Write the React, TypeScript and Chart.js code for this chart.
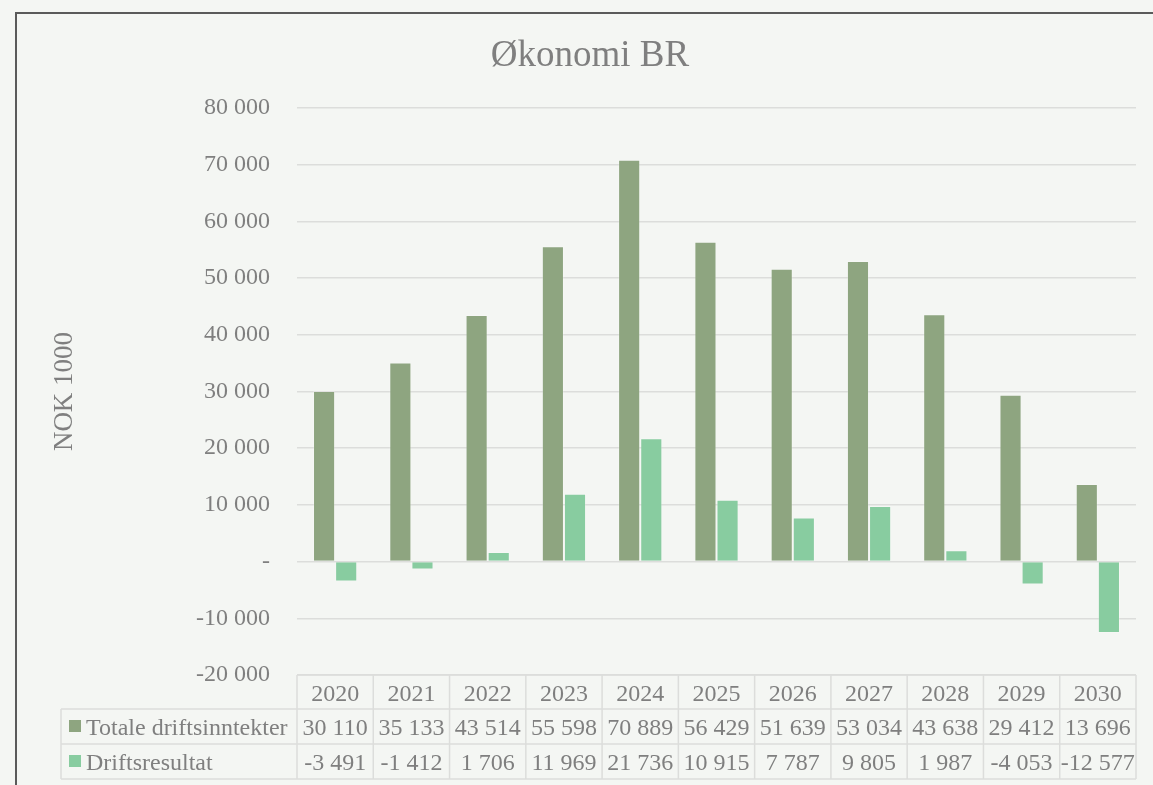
import { useEffect, useRef } from 'react';
import { Chart, registerables } from 'chart.js';

Chart.register(...registerables);

const years = ['2020', '2021', '2022', '2023', '2024', '2025', '2026', '2027', '2028', '2029', '2030'];
const totaleDriftsinntekter = [30110, 35133, 43514, 55598, 70889, 56429, 51639, 53034, 43638, 29412, 13696];
const driftsresultat = [-3491, -1412, 1706, 11969, 21736, 10915, 7787, 9805, 1987, -4053, -12577];
const seriesNames = ['Totale driftsinntekter', 'Driftsresultat'];
const seriesColors = ['#8ea580', '#88cca0'];
const yMin = -20000;
const yMax = 80000;
const yStep = 10000;
const chartTitle = 'Økonomi BR';
const yTitle = 'NOK 1000';

const FONT = '"Liberation Serif", "Times New Roman", serif';
const TEXT = '#7f7f7f';
const BG = '#f4f6f3';
const GRID = '#dcdddb';

function fmt(n: number): string {
  if (n === 0) return '-';
  const s = Math.abs(n).toString().replace(/\B(?=(\d{3})+(?!\d))/g, ' ');
  return (n < 0 ? '-' : '') + s;
}

const decorPlugin = {
  id: 'decor',
  beforeDraw(chart: any) {
    const ctx = chart.ctx;
    ctx.save();
    ctx.fillStyle = BG;
    ctx.fillRect(0, 0, chart.width, chart.height);
    ctx.strokeStyle = '#5a5a5a';
    ctx.lineWidth = 2;
    ctx.beginPath();
    ctx.moveTo(16, chart.height + 5);
    ctx.lineTo(16, 13);
    ctx.lineTo(chart.width + 5, 13);
    ctx.stroke();
    ctx.restore();
  },
  afterDraw(chart: any) {
    const ctx = chart.ctx;
    const { left, right, bottom } = chart.chartArea;
    const n = years.length;
    const colW = (right - left) / n;
    const xs = chart.scales.x;
    ctx.save();
    // title
    ctx.fillStyle = TEXT;
    ctx.font = `37px ${FONT}`;
    ctx.textAlign = 'center';
    ctx.textBaseline = 'alphabetic';
    ctx.fillText(chartTitle, 590, 66);

    // table
    const r0 = bottom;
    const r1 = r0 + 34;
    const r2 = r1 + 35;
    const r3 = r2 + 35;
    const legLeft = 61;
    ctx.strokeStyle = GRID;
    ctx.lineWidth = 1.5;
    ctx.beginPath();
    ctx.moveTo(left, r0); ctx.lineTo(right, r0);
    [r1, r2, r3].forEach((y) => { ctx.moveTo(legLeft, y); ctx.lineTo(right, y); });
    ctx.moveTo(legLeft, r1); ctx.lineTo(legLeft, r3);
    for (let i = 0; i <= n; i++) {
      const x = left + i * colW;
      ctx.moveTo(x, r0); ctx.lineTo(x, r3);
    }
    ctx.stroke();

    ctx.font = `24px ${FONT}`;
    ctx.fillStyle = TEXT;
    ctx.textAlign = 'center';
    ctx.textBaseline = 'alphabetic';
    const rows = [totaleDriftsinntekter, driftsresultat];
    years.forEach((yr, i) => {
      const cx = xs.getPixelForValue(i);
      ctx.fillText(yr, cx, r0 + 26);
      rows.forEach((row, j) => {
        ctx.fillText(fmt(row[i]), cx, (j === 0 ? r1 : r2) + 26);
      });
    });
    ctx.textAlign = 'left';
    seriesNames.forEach((name, j) => {
      const top = j === 0 ? r1 : r2;
      ctx.fillStyle = seriesColors[j];
      ctx.fillRect(69, top + 11, 12, 12);
      ctx.fillStyle = TEXT;
      ctx.fillText(name, 86, top + 26);
    });
    ctx.restore();
  },
};

export default function App() {
  const ref = useRef<HTMLCanvasElement | null>(null);
  useEffect(() => {
    if (!ref.current) return;
    const chart = new Chart(ref.current, {
      type: 'bar',
      data: {
        labels: years,
        datasets: [
          {
            label: seriesNames[0],
            data: totaleDriftsinntekter,
            backgroundColor: seriesColors[0],
            borderColor: 'rgba(255,255,255,0.2)',
            borderWidth: 1,
            categoryPercentage: 0.58,
            barPercentage: 1,
          },
          {
            label: seriesNames[1],
            data: driftsresultat,
            backgroundColor: seriesColors[1],
            borderColor: 'rgba(255,255,255,0.2)',
            borderWidth: 1,
            categoryPercentage: 0.58,
            barPercentage: 1,
          },
        ],
      },
      options: {
        responsive: false,
        animation: false,
        devicePixelRatio: 1,
        layout: { padding: { left: 0, top: 108, right: 17, bottom: 110 } },
        plugins: {
          legend: { display: false },
          title: { display: false },
          tooltip: { enabled: false },
        },
        scales: {
          x: { display: false },
          y: {
            min: yMin,
            max: yMax,
            border: { display: false },
            grid: { color: GRID, lineWidth: 1.5, drawTicks: false },
            ticks: {
              stepSize: yStep,
              padding: 27,
              color: TEXT,
              font: { family: FONT, size: 24 },
              callback: (v: any) => fmt(Number(v)),
            },
            title: {
              display: true,
              text: yTitle,
              color: TEXT,
              font: { family: FONT, size: 27 },
              padding: { top: 49, bottom: 0 },
            },
            afterFit: (s: any) => { s.width = 297; },
          },
        },
      },
      plugins: [decorPlugin],
    });
    return () => chart.destroy();
  }, []);
  return (
    <div style={{ position: 'fixed', left: 0, top: 0, width: 1153, height: 785 }}>
      <canvas ref={ref} width={1153} height={785} style={{ display: 'block' }} />
    </div>
  );
}
